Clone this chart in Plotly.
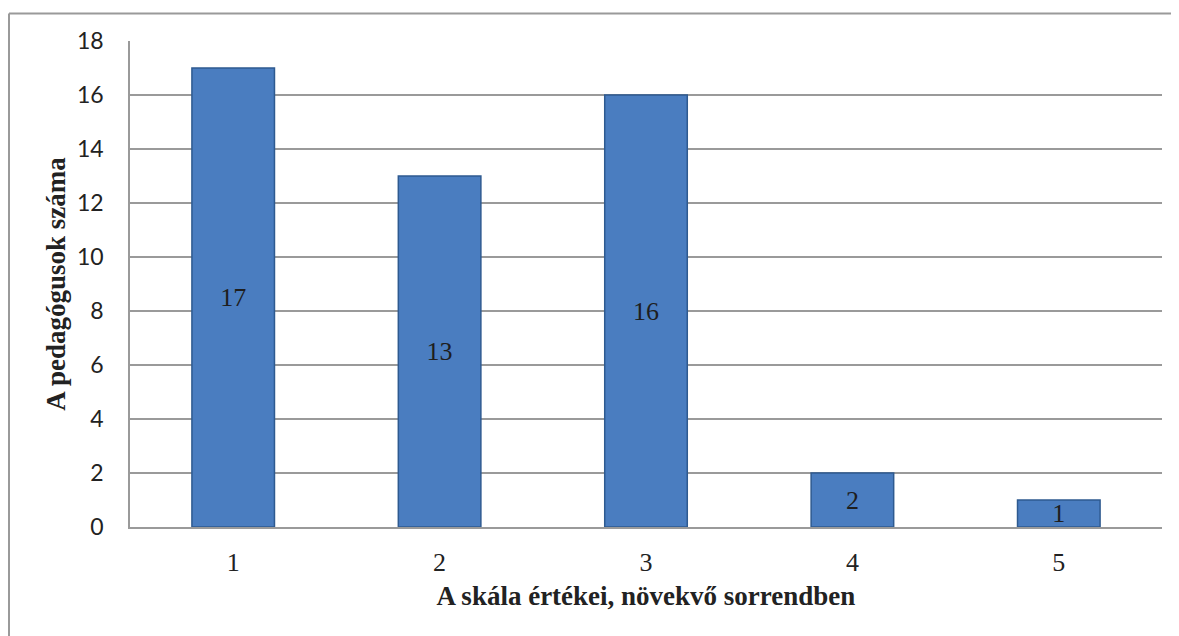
import plotly.graph_objects as go

categories = ["1", "2", "3", "4", "5"]
values = [17, 13, 16, 2, 1]
y_ticks = [0, 2, 4, 6, 8, 10, 12, 14, 16, 18]
x_title = "A skála értékei, növekvő sorrendben"
y_title = "A pedagógusok száma"

# page has an 8px body margin, so the figure is sized/offset accordingly
W, H = 1171, 628
ml, mr, mt, mb = 122, 17, 33, 109
PW, PH = W - ml - mr, H - mt - mb

def px_x(x):
    return (x - ml) / PW

def px_y(y):
    return (H - mb - y) / PH

fig = go.Figure()
fig.add_trace(go.Bar(
    x=categories, y=values, text=[str(v) for v in values],
    textposition="inside", insidetextanchor="middle", textangle=0,
    constraintext="none",
    textfont=dict(family="Liberation Serif", size=26, color="#1E1E1E"),
    marker=dict(color="#4A7DC0", line=dict(color="#2E5A90", width=1.5)),
    width=0.40, hoverinfo="skip",
))

fig.update_layout(
    width=W, height=H,
    margin=dict(l=ml, r=mr, t=mt, b=mb, autoexpand=False),
    paper_bgcolor="white", plot_bgcolor="white",
    showlegend=False,
    xaxis=dict(
        type="category", range=[-0.5, 4.5], automargin=False,
        showgrid=False, showline=True, linecolor="#9A9A9A", linewidth=2,
        ticks="outside", ticklen=11, tickcolor="rgba(0,0,0,0)",
        tickfont=dict(family="Liberation Serif", size=26, color="#222222"),
        title=dict(text=x_title, standoff=10,
                   font=dict(family="Liberation Serif", size=27, color="#222222", weight="bold")),
    ),
    yaxis=dict(
        range=[0, 18], tickvals=y_ticks, automargin=False,
        showgrid=True, gridcolor="#9A9A9A", gridwidth=1.5,
        showline=True, linecolor="#9A9A9A", linewidth=1.5,
        zeroline=False,
        ticks="outside", ticklen=20, tickcolor="rgba(0,0,0,0)",
        tickfont=dict(family="Lato", size=23, color="#222222"),
        title=dict(text=y_title, standoff=4,
                   font=dict(family="Liberation Serif", size=27, color="#222222", weight="bold")),
    ),
)

# Outer chart border (only top and left edges visible in the crop)
fig.add_shape(type="line", xref="paper", yref="paper",
              x0=px_x(1), x1=px_x(W + 5), y0=px_y(5.5), y1=px_y(5.5),
              line=dict(color="#9A9A9A", width=2))
fig.add_shape(type="line", xref="paper", yref="paper",
              x0=px_x(1), x1=px_x(1), y0=px_y(5.5), y1=px_y(H + 5),
              line=dict(color="#9A9A9A", width=2))

fig.write_html("out.html")
